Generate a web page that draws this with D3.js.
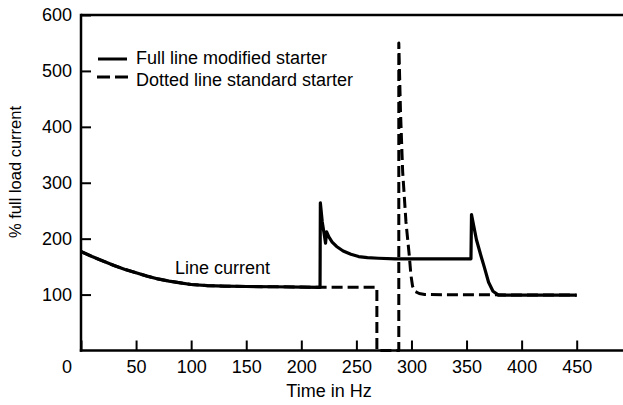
<!DOCTYPE html>
<html>
<head>
<meta charset="utf-8">
<script src="https://cdn.jsdelivr.net/npm/d3@7"></script>
<style>
  html, body { margin: 0; padding: 0; background: #fff; }
  svg { display: block; font-family: "Liberation Sans", Arial, Helvetica, sans-serif; }
</style>
</head>
<body>
<svg id="chart" width="623" height="405"></svg>
<script>
// ---- Data ----
const xTicks = [0, 50, 100, 150, 200, 250, 300, 350, 400, 450];
const yTicks = [100, 200, 300, 400, 500, 600];

// Full line: modified starter
const modifiedX = [0, 10, 20, 30, 40, 50, 60, 70, 80, 90, 100, 115, 130, 150, 175, 200, 217,
  217.3, 219, 221, 222, 223, 225, 228, 232, 238, 245, 252, 260, 270, 285, 320, 354,
  354.5, 359, 363, 366, 370, 374, 379, 400, 450];
const modifiedY = [177, 168, 160, 152, 145, 139, 133, 128, 124, 121, 118, 116, 115, 114.5, 114, 113.5, 113,
  264, 230, 205, 192, 212, 203, 194, 186, 178, 172, 168, 166, 165, 164, 164, 164,
  243, 198, 170, 150, 122, 106, 99, 99, 99];

// Dotted line: standard starter
const standardX = [0, 10, 20, 30, 40, 50, 60, 70, 80, 90, 100, 115, 130, 150, 175, 200, 217,
  268.6, 268.6, 288.5, 288.5, 290, 292, 295, 298, 299.5, 301, 303, 307, 312, 450];
const standardY = [177, 168, 160, 152, 145, 139, 133, 128, 124, 121, 118, 116, 115, 114.5, 114, 113.5, 113,
  113, 0, 0, 550, 430, 320, 230, 170, 135, 115, 106, 102, 100, 99];

const legendLabels = ["Full line modified starter", "Dotted line standard starter"];
const annotationText = "Line current";
const xTitle = "Time in Hz";
const yTitle = "% full load current";

// ---- Chart ----
const svg = d3.select("#chart");
const fontSize = 18;

const x = d3.scaleLinear().domain([0, 450]).range([81, 576.7]);
const y = d3.scaleLinear().domain([0, 600]).range([350.5, 15]);

const axisColor = "#000";

// frame top line
svg.append("line")
  .attr("x1", x(0)).attr("x2", 623)
  .attr("y1", y(600)).attr("y2", y(600))
  .attr("stroke", axisColor).attr("stroke-width", 2.5);

// Y axis
const yAxis = svg.append("g")
  .attr("transform", `translate(${x(0)},0)`)
  .call(d3.axisLeft(y).tickValues(yTicks).tickSizeInner(-10).tickSizeOuter(0).tickPadding(9));
yAxis.select(".domain").remove();
yAxis.selectAll(".tick line").attr("stroke", axisColor).attr("stroke-width", 2);
yAxis.selectAll(".tick text").attr("font-size", fontSize).attr("fill", "#000")
  .attr("font-family", "Liberation Sans, Arial, sans-serif");
svg.append("line")
  .attr("x1", x(0)).attr("x2", x(0))
  .attr("y1", y(600) - 1.2).attr("y2", y(0) + 1.2)
  .attr("stroke", axisColor).attr("stroke-width", 2.5);

// X axis
const xAxis = svg.append("g")
  .attr("transform", `translate(0,${y(0)})`)
  .call(d3.axisBottom(x).tickValues(xTicks).tickSizeInner(-10).tickSizeOuter(0).tickPadding(10));
xAxis.select(".domain").remove();
xAxis.selectAll(".tick line").attr("stroke", axisColor).attr("stroke-width", 2);
xAxis.selectAll(".tick text").attr("font-size", fontSize).attr("fill", "#000")
  .attr("font-family", "Liberation Sans, Arial, sans-serif")
  .attr("dx", d => d === 0 ? -14.5 : 0);
svg.append("line")
  .attr("x1", x(0) - 1.2).attr("x2", 623)
  .attr("y1", y(0)).attr("y2", y(0))
  .attr("stroke", axisColor).attr("stroke-width", 2.5);

// Lines
const line = d3.line().x(d => x(d[0])).y(d => y(d[1]));
const stdData = standardX.map((v, i) => [v, standardY[i]]);
const modData = modifiedX.map((v, i) => [v, modifiedY[i]]);

svg.append("path").datum(stdData)
  .attr("d", line).attr("fill", "none").attr("stroke", "#000")
  .attr("stroke-width", 3).attr("stroke-dasharray", "11,5")
  .attr("stroke-linejoin", "round");
svg.append("path").datum(modData)
  .attr("d", line).attr("fill", "none").attr("stroke", "#000")
  .attr("stroke-width", 3.2).attr("stroke-linejoin", "round");

// Legend
const legend = svg.append("g");
legend.append("line").attr("x1", 98).attr("x2", 127).attr("y1", 59).attr("y2", 59)
  .attr("stroke", "#000").attr("stroke-width", 3);
legend.append("line").attr("x1", 97).attr("x2", 128).attr("y1", 77).attr("y2", 77)
  .attr("stroke", "#000").attr("stroke-width", 3).attr("stroke-dasharray", "13,5");
legend.selectAll("text.leg").data(legendLabels).enter().append("text")
  .attr("class", "leg")
  .attr("x", 136).attr("y", (d, i) => 58 + i * 22)
  .attr("dy", "0.35em")
  .attr("font-size", fontSize).attr("fill", "#000")
  .text(d => d);

// Annotation
svg.append("text").attr("x", 175).attr("y", 274)
  .attr("font-size", fontSize).attr("fill", "#000").text(annotationText);

// Axis titles
svg.append("text").attr("x", 329).attr("y", 397)
  .attr("text-anchor", "middle").attr("font-size", fontSize).attr("fill", "#000").text(xTitle);
svg.append("text").attr("transform", "translate(15,172) rotate(-90)")
  .attr("text-anchor", "middle").attr("dy", "0.35em")
  .attr("font-size", 16.5).attr("fill", "#000").text(yTitle);
</script>
</body>
</html>
